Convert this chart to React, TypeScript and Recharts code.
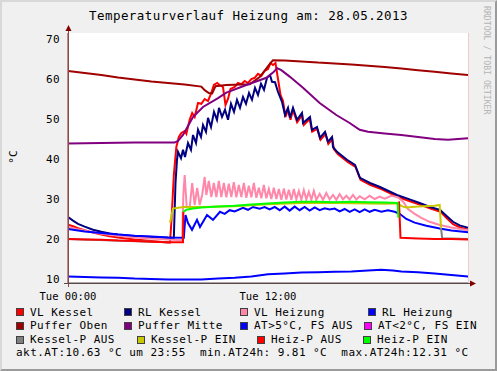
import { CartesianGrid, Line, LineChart, XAxis, YAxis } from 'recharts'

type Pt = [number, number | null]

const MONO = '"DejaVu Sans Mono", monospace'

const title = 'Temperaturverlauf Heizung am: 28.05.2013'
const hourTicks = [0, 12]
const hourLabels: Record<number, string> = { 0: 'Tue 00:00', 12: 'Tue 12:00' }
const tempTicks = [10, 20, 30, 40, 50, 60, 70]
const minorHours = Array.from({ length: 25 }, (_, i) => i)
const majorHours = [0, 6, 12, 18, 24]
const minorTemps = Array.from({ length: 31 }, (_, i) => 10 + i * 2)

// VL Kessel
const vlKessel: Pt[] = [
  [0, 23.6], [0.3, 23.2], [0.6, 22.7], [1, 22.2], [1.5, 21.6], [2, 21.1], [2.5, 20.7], [3, 20.4], [4, 19.9],
  [5, 19.5], [6, 19.1], [6.12, 19.1], [6.2, 24], [6.35, 36], [6.5, 43], [6.65, 45.5], [6.8, 46.5], [7.0, 47],
  [7.1, 46.3], [7.3, 49.8], [7.45, 51.5], [7.6, 50.5], [7.8, 54], [8.0, 53.8], [8.2, 55], [8.4, 54.5],
  [8.6, 56.5], [8.75, 58.5], [8.95, 59], [9.1, 58.5], [9.3, 58], [9.45, 53.5], [9.6, 55], [9.75, 57.5],
  [10.0, 58], [10.2, 59], [10.4, 58.7], [10.6, 59.5], [10.8, 59], [11.0, 60], [11.2, 60.3], [11.4, 61.3],
  [11.6, 60.8], [11.8, 62], [12.0, 62.5], [12.15, 64], [12.3, 63.5], [12.45, 64], [12.6, 60], [12.75, 56],
  [12.9, 54.5], [13.05, 50.5], [13.2, 52.3], [13.35, 49.8], [13.5, 52.2], [13.75, 49.2], [14.05, 51],
  [14.15, 48.5], [14.5, 50], [14.65, 46.8], [14.95, 47.5], [15.15, 44.8], [15.45, 46.2], [15.62, 43.8],
  [15.86, 45], [15.95, 42.5], [16.2, 41.2], [16.8, 39.2], [17.25, 38], [17.55, 34.8], [18.15, 33.5],
  [18.8, 32.5], [19.8, 30.5], [20.6, 29.3], [21.2, 28.5], [21.75, 27.6], [22.35, 26.8], [22.7, 25.3],
  [23.1, 23.7], [23.5, 22.9], [24, 22.3],
]

// RL Kessel
const rlKessel: Pt[] = [
  [0, 25.5], [0.3, 24.6], [0.6, 23.8], [1, 23.1], [1.5, 22.3], [2, 21.8], [2.5, 21.4], [3, 21.1], [4, 20.7],
  [5, 20.5], [6, 20.3], [6.35, 20.3], [6.45, 34], [6.54, 39.8], [6.6, 41.8], [6.78, 40.2], [6.9, 42.3],
  [7.02, 40.5], [7.2, 44], [7.38, 42.3], [7.5, 46], [7.68, 44], [7.8, 47.3], [7.98, 45.5], [8.1, 48.5],
  [8.28, 46.8], [8.4, 50.3], [8.58, 48], [8.76, 51.8], [8.94, 49.8], [9.06, 52.8], [9.24, 50.5], [9.42, 52.3],
  [9.6, 49.8], [9.78, 53.8], [9.96, 51.8], [10.14, 54.8], [10.32, 52.8], [10.5, 55.5], [10.68, 53.8],
  [10.86, 56.5], [11.04, 54.8], [11.22, 57.8], [11.4, 56], [11.58, 58.8], [11.76, 57.3], [11.94, 60.3],
  [12.12, 61], [12.24, 59.3], [12.42, 59.2], [12.6, 56.8], [12.84, 54.3], [13.02, 51], [13.2, 52.8],
  [13.32, 50.3], [13.5, 52.8], [13.74, 49.8], [14.04, 51.5], [14.1, 49], [14.52, 50.5], [14.64, 47.3],
  [14.94, 48], [15.12, 45.3], [15.42, 46.8], [15.6, 44.3], [15.84, 45.5], [15.9, 43], [16.14, 41.8],
  [16.74, 39.8], [17.22, 38.5], [17.52, 35.3], [18.12, 34], [18.72, 33], [19.74, 31], [20.5, 29.9],
  [21.1, 29], [21.72, 28], [22.32, 27.3], [22.7, 25.8], [23.1, 24.3], [23.5, 23.4], [24, 22.8],
]

// VL Heizung
const vlHeizung: Pt[] = [
  [0, 23], [0.5, 22.5], [1, 22.1], [1.5, 21.7], [2, 21.3], [3, 20.8], [4, 20.4], [5, 20.1], [6, 19.9],
  [6.85, 19.7], [6.92, 31], [7.0, 36], [7.12, 28], [7.3, 27.8], [7.45, 34], [7.6, 28.5], [7.75, 32.8],
  [7.9, 28.5], [8.05, 31], [8.2, 35.5], [8.3, 31], [8.45, 34.5], [8.6, 30.5], [8.75, 34], [8.9, 30.5],
  [9.05, 34.5], [9.2, 30.5], [9.35, 34], [9.5, 30.4], [9.65, 33.8], [9.8, 30.5], [9.95, 34.2], [10.1, 30.4],
  [10.25, 33.5], [10.4, 30.5], [10.55, 34], [10.7, 30.3], [10.85, 33.3], [11.0, 30.4], [11.15, 34],
  [11.3, 30.3], [11.45, 32.8], [11.6, 30.2], [11.75, 33.5], [11.9, 30.2], [12.05, 32.5], [12.2, 30],
  [12.35, 32.8], [12.5, 30], [12.65, 32.5], [12.8, 29.8], [12.95, 32.6], [13.1, 29.9], [13.25, 32.3],
  [13.4, 29.8], [13.55, 32.5], [13.7, 29.9], [13.85, 32], [14.0, 29.8], [14.15, 32.2], [14.3, 29.9],
  [14.45, 31.8], [14.6, 29.8], [14.75, 32], [14.9, 29.8], [15.1, 31.3], [15.3, 29.8], [15.5, 31.5],
  [15.7, 29.9], [15.9, 31], [16.1, 29.8], [16.3, 31.2], [16.5, 29.9], [16.7, 30.8], [16.9, 29.9], [17.1, 31],
  [17.3, 29.9], [17.5, 30.7], [17.8, 29.9], [18.1, 30.8], [18.4, 30], [18.7, 30.6], [19.0, 30.1],
  [19.4, 30.8], [19.8, 30.4], [20.1, 29.4], [20.4, 27.5], [20.8, 26.3], [21.2, 25.3], [21.7, 24.3],
  [22.3, 23.5], [23, 22.9], [24, 22.2],
]

// RL Heizung
const rlHeizung: Pt[] = [
  [0, 22.5], [0.5, 22.2], [1, 21.9], [2, 21.5], [3, 21.1], [4, 20.8], [5, 20.6], [6, 20.4], [6.95, 20.3],
  [7.05, 26], [7.2, 24], [7.44, 22.3], [7.74, 24.8], [7.92, 23], [8.34, 26], [8.7, 24.8], [9.12, 26.8],
  [9.4, 26.3], [9.7, 27.2], [10.0, 26.9], [10.5, 27.8], [10.8, 27.3], [11.1, 28], [11.5, 27.6], [11.8, 28],
  [12.1, 27.4], [12.4, 28], [12.7, 27.2], [13.0, 28.1], [13.3, 27.1], [13.6, 28.1], [13.9, 27.2], [14.2, 28],
  [14.5, 27.1], [14.8, 27.9], [15.1, 27.2], [15.4, 27.7], [15.7, 27.4], [16.0, 27.6], [16.3, 26.9],
  [16.6, 27.5], [16.9, 26.8], [17.2, 27.4], [17.5, 26.7], [17.8, 27.4], [18.1, 26.8], [18.4, 27.3],
  [18.8, 26.8], [19.2, 27.2], [19.6, 26.8], [19.9, 26.3], [20.3, 25], [20.8, 24.1], [21.5, 23.3],
  [22.3, 22.6], [23, 22.1], [24, 21.7],
]

// Puffer Oben
const pufferOben: Pt[] = [
  [0, 62], [1, 61.5], [2, 61], [3, 60.4], [4, 59.9], [5, 59.4], [6, 59.0], [7, 58.6], [8.0, 58.1],
  [8.2, 57.2], [8.45, 56.5], [8.65, 56.4], [8.85, 58.2], [9.5, 58.5], [10.9, 58.7], [11.5, 60.5],
  [12.1, 63.7], [12.3, 64.7], [13, 64.6], [14, 64.4], [15, 64.1], [16, 63.9], [17, 63.6], [18, 63.3],
  [19, 63.0], [20, 62.6], [21, 62.2], [22, 61.8], [23, 61.4], [24, 61.0],
]

// Puffer Mitte
const pufferMitte: Pt[] = [
  [0, 43.9], [2, 44.0], [4, 44.1], [6.4, 44.1], [6.6, 44.5], [6.9, 46], [7.5, 50.5], [8.1, 53], [9, 55.2],
  [9.5, 56.6], [10.7, 58.5], [11.9, 60.3], [12.3, 61.6], [12.55, 62.7], [12.8, 62.2], [13.3, 60.6],
  [14.1, 57.8], [15.1, 54], [16.1, 51], [16.9, 49], [17.5, 47.3], [18, 46.8], [19, 46.4], [20, 46],
  [21, 45.5], [22, 45], [22.8, 44.8], [24, 45.2],
]

// AT>5°C, FS AUS
const aussen: Pt[] = [
  [0, 10.6], [1, 10.5], [2, 10.4], [3, 10.3], [4, 10.1], [5, 10.0], [6, 9.9], [7, 9.85], [8, 9.9],
  [9, 10.1], [10, 10.3], [11, 10.6], [12, 11.2], [13, 11.4], [14, 11.6], [15, 11.7], [16, 11.8],
  [17, 11.9], [18, 12.1], [18.8, 12.3], [19.5, 12.1], [20, 11.9], [21, 11.7], [22, 11.4], [23, 11.0],
  [24, 10.6],
]

// Kessel-P AUS / EIN
const kesselAus: Pt[] = [
  [0, 20], [6, 19.2], [6.12, 19.2], [6.14, null], [22.36, null], [22.38, 22.8], [22.45, 20.2], [24, 20],
]
const kesselEin: Pt[] = [
  [6.12, 24], [6.3, 27.6], [6.6, 27.8], [7, 28], [8, 28], [10, 28.2], [12, 28.7], [14, 29], [16, 29],
  [18, 28.9], [19, 28.8], [19.7, 28.9], [20.1, 28.1], [20.3, 27.9], [21, 28.1], [22, 28.3], [22.3, 28.5],
  [22.38, 22.8],
]

// Heiz-P AUS / EIN
const heizAus: Pt[] = [
  [0, 20], [1, 19.9], [2, 19.8], [3, 19.6], [4, 19.5], [5, 19.3], [6, 19.2], [6.9, 19.2], [6.92, 26.8],
  [6.95, null], [19.84, null], [19.86, 29.4], [19.95, 20.3], [21, 20.1], [22, 20], [23, 20], [24, 19.9],
]
const heizEin: Pt[] = [
  [6.92, 26.8], [7.1, 27.3], [7.5, 27.6], [8, 27.9], [9, 28.1], [10, 28.3], [11, 28.6], [12, 28.9],
  [13, 29.1], [14, 29.3], [15, 29.3], [16, 29.2], [17, 29.3], [18, 29.2], [19, 29.1], [19.78, 29],
  [19.82, 25.3],
]

const series = [
  { name: 'VL Kessel', color: '#ff0000', pts: vlKessel },
  { name: 'RL Kessel', color: '#000080', pts: rlKessel },
  { name: 'VL Heizung', color: '#ff88aa', pts: vlHeizung },
  { name: 'RL Heizung', color: '#0000ff', pts: rlHeizung },
  { name: 'Puffer Oben', color: '#a00000', pts: pufferOben },
  { name: 'Puffer Mitte', color: '#800080', pts: pufferMitte },
  { name: 'AT>5°C, FS AUS', color: '#0000ff', pts: aussen },
  { name: 'Kessel-P AUS', color: '#808080', pts: kesselAus },
  { name: 'Kessel-P EIN', color: '#c8c800', pts: kesselEin },
  { name: 'Heiz-P AUS', color: '#ff0000', pts: heizAus },
  { name: 'Heiz-P EIN', color: '#00ff00', pts: heizEin },
]

const legendNames = [
  ['VL Kessel', 'RL Kessel', 'VL Heizung', 'RL Heizung'],
  ['Puffer Oben', 'Puffer Mitte', 'AT>5°C, FS AUS', 'AT<2°C, FS EIN'],
  ['Kessel-P AUS', 'Kessel-P EIN', 'Heiz-P AUS', 'Heiz-P EIN'],
]
const legendColors = [
  ['#ff0000', '#000080', '#ff88aa', '#0000ff'],
  ['#a00000', '#800080', '#0000ff', '#ff00ff'],
  ['#808080', '#c8c800', '#ff0000', '#00ff00'],
]
const legendX = [
  [16, 124, 240, 368],
  [16, 124, 240, 364],
  [16, 137, 257, 363],
]
const legendY = [312, 325.5, 339.5]
const footer = 'akt.AT:10.63 °C um 23:55  min.AT24h: 9.81 °C  max.AT24h:12.31 °C'

const toData = (pts: Pt[]) => pts.map(([t, v]) => ({ t, v }))

function XTick({ x, y, payload }: any) {
  return (
    <text x={x} y={y + 11} textAnchor="middle" dominantBaseline="central" fontFamily={MONO} fontSize={10.5} fill="#000">
      {hourLabels[payload.value]}
    </text>
  )
}

function YTick({ x, y, payload }: any) {
  return (
    <text x={x - 6} y={y} textAnchor="end" dominantBaseline="central" fontFamily={MONO} fontSize={11} letterSpacing={0.4} fill="#000">
      {payload.value}
    </text>
  )
}

export default function App() {
  return (
    <div
      style={{
        position: 'absolute', left: 0, top: 0, width: 497, height: 371, boxSizing: 'border-box',
        background: '#f0f0f0', borderTop: '2px solid #d8d8d8', borderLeft: '2px solid #d8d8d8',
        borderRight: '2px solid #9a9a9a', borderBottom: '2px solid #9a9a9a', fontFamily: MONO,
      }}
    >
      <div style={{ position: 'absolute', left: -2, top: -2, width: 497, height: 371 }}>
        <div style={{ position: 'absolute', left: 0, top: 8, width: 497, textAlign: 'center', fontSize: 12.5, letterSpacing: 0.45, lineHeight: '16px', color: '#000' }}>
          {title}
        </div>
        <div style={{ position: 'absolute', left: 482, top: 6, writingMode: 'vertical-rl', fontSize: 8.2, color: '#b4b4b4', whiteSpace: 'pre' }}>
          RRDTOOL / TOBI OETIKER
        </div>
        <div style={{ position: 'absolute', left: 13, top: 157, transform: 'translate(-50%, -50%) rotate(-90deg)', fontSize: 11, color: '#000', whiteSpace: 'pre' }}>
          °C
        </div>
        <div style={{ position: 'absolute', left: 0, top: 0 }}>
          <LineChart width={497} height={310} margin={{ top: 33, right: 29, bottom: 0, left: 0 }}>
            <rect x={68} y={33} width={400} height={250} fill="#ffffff" />
            <CartesianGrid stroke="#dcdcdc" strokeWidth={1} horizontalValues={minorTemps} verticalValues={minorHours} fill="#ffffff" />
            <CartesianGrid stroke="#f5b4b4" strokeWidth={1} horizontalValues={tempTicks} verticalValues={majorHours} />
            <XAxis
              dataKey="t" type="number" domain={[0, 24]} ticks={hourTicks} allowDataOverflow
              height={27} tickSize={0} tick={<XTick />} axisLine={{ stroke: '#5a4a4a' }} tickLine={false}
            />
            <YAxis
              dataKey="v" type="number" domain={[9, 71.5]} ticks={tempTicks} allowDataOverflow
              width={68} tickSize={0} tick={<YTick />} axisLine={{ stroke: '#8a4a4a' }} tickLine={false}
            />
            {series.map((s) => (
              <Line
                key={s.name} data={toData(s.pts)} dataKey="v" name={s.name} type="linear" stroke={s.color}
                strokeWidth={2} dot={false} activeDot={false} connectNulls={false} isAnimationActive={false}
              />
            ))}
          </LineChart>
        </div>
        <svg width={497} height={371} style={{ position: 'absolute', left: 0, top: 0, pointerEvents: 'none' }}>
          <line x1={68.5} y1={28} x2={68.5} y2={287} stroke="#8a4a4a" strokeWidth={1} />
          <line x1={64} y1={283.5} x2={472} y2={283.5} stroke="#5a4a4a" strokeWidth={1} />
          <polygon points="65.5,31 71.5,31 68.5,25" fill="#800000" />
          <polygon points="470,280.5 470,286.5 476,283.5" fill="#800000" />
        </svg>
        {legendNames.map((row, r) =>
          row.map((name, c) => (
            <div key={name} style={{ position: 'absolute', left: legendX[r][c], top: legendY[r] - 8, height: 16, display: 'flex', alignItems: 'center', whiteSpace: 'pre' }}>
              <span style={{ display: 'inline-block', width: 8, height: 8, boxSizing: 'border-box', background: legendColors[r][c], border: '1px solid #404040', marginRight: 6 }} />
              <span style={{ fontSize: 11, letterSpacing: 0.45, color: '#000' }}>{name}</span>
            </div>
          )),
        )}
        <div style={{ position: 'absolute', left: 16, top: 345, lineHeight: '16px', fontSize: 11, letterSpacing: 0.45, whiteSpace: 'pre', color: '#000' }}>
          {footer}
        </div>
      </div>
    </div>
  )
}
